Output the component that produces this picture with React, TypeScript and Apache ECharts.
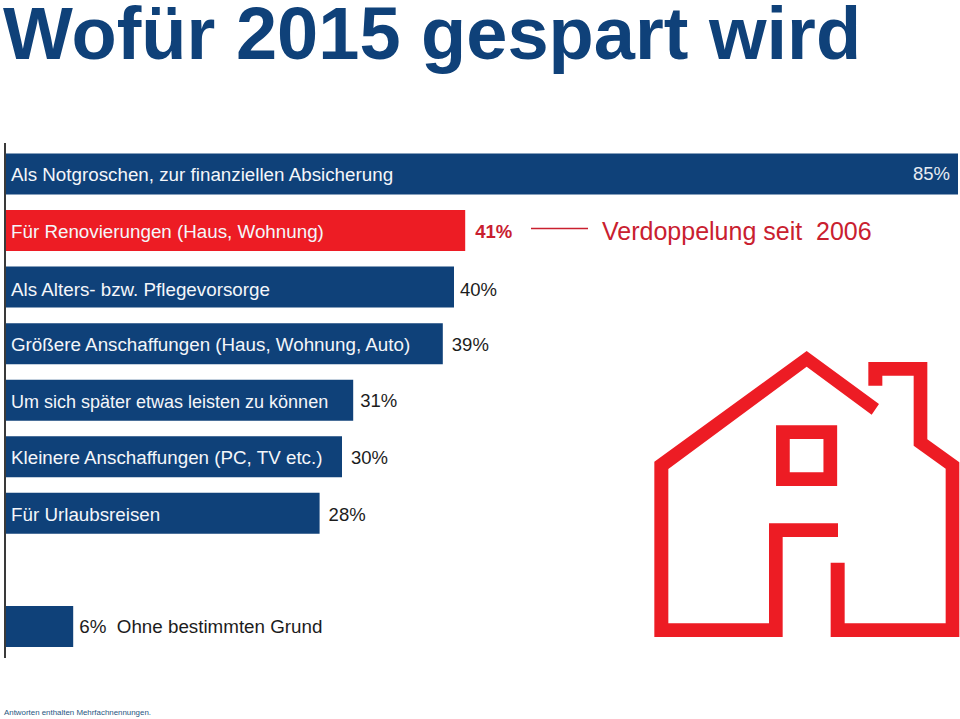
import React, { useEffect, useRef } from "react";
import * as echarts from "echarts";

const categories = [
  "Als Notgroschen, zur finanziellen Absicherung",
  "Für Renovierungen (Haus, Wohnung)",
  "Als Alters- bzw. Pflegevorsorge",
  "Größere Anschaffungen (Haus, Wohnung, Auto)",
  "Um sich später etwas leisten zu können",
  "Kleinere Anschaffungen (PC, TV etc.)",
  "Für Urlaubsreisen",
  "",
  "",
];
const values = [85, 41, 40, 39, 31, 30, 28, null, 6];
const highlightIndex = 1;
const lastNote = "Ohne bestimmten Grund";
const titleText = "Wofür 2015 gespart wird";
const calloutText = "Verdoppelung seit  2006";
const footnote = "Antworten enthalten Mehrfachnennungen.";

const NAVY = "#0f4179";
const RED = "#ed1c24";
const CALLOUT = "#c9202f";
const FONT = "'Liberation Sans', Arial, sans-serif";

const gaps = [0, 10, 6, 9, 7, 9, 9, 0, 6];
const shifts = [0, 1, 2, 1, 0, 1, 1, 0, 0];
const nameSizes = [18.8, 18.8, 18.8, 18.8, 18, 18.8, 18.8, 18.8, 18.8];
const nameShifts = [1, 1, 2, 1, 2, 1, 1, 0, 0];

// House pictogram outlines, measured in page pixels
const z = (pts: number[][]) => pts.map(([x, y]) => [640 + x / 3, 340 + y / 3]);
const houseLeft = z([[717,192],[500,33],[43,365],[43,891],[428,891],[428,591],[594,591],[594,550],[387,550],[387,850],[85,850],[85,387],[500,80],[695,224]]);
const houseRight = z([[685,66],[862,66],[862,298],[958,367],[958,891],[572,891],[572,668],[614,668],[614,850],[917,850],[917,386],[821,317],[821,107],[727,107],[727,137],[685,137]]);

const nameRich: Record<string, any> = {};
nameSizes.forEach((s, i) => {
  nameRich["r" + i] = {
    fontSize: s,
    fontFamily: FONT,
    color: "#f4f6fa",
    padding: [nameShifts[i] * 2, 0, 0, 0],
  };
});

export default function App() {
  const ref = useRef<HTMLDivElement>(null);
  useEffect(() => {
    document.body.style.margin = "0";
    const chart = echarts.init(ref.current!, null, { renderer: "svg" });
    chart.setOption({
      animation: false,
      backgroundColor: "#ffffff",
      title: {
        text: titleText,
        left: 3,
        top: 1,
        padding: 0,
        textStyle: { color: NAVY, fontFamily: FONT, fontWeight: "bold", fontSize: 74, lineHeight: 64 },
      },
      grid: { left: 6, top: 145.7, width: 952, height: 509 },
      xAxis: { type: "value", min: 0, max: 85, show: false },
      yAxis: {
        type: "category",
        inverse: true,
        data: categories,
        axisLine: { show: false },
        axisTick: { show: false },
        axisLabel: {
          inside: true,
          margin: 5,
          fontFamily: FONT,
          fontSize: 18.8,
          formatter: (v: string, i: number) => (v ? `{r${i}|${v}}` : ""),
          rich: nameRich,
        },
        z: 5,
      },
      series: [
        {
          type: "bar",
          barWidth: 41,
          data: values.map((v, i) => ({
            value: v,
            itemStyle: { color: i === highlightIndex ? RED : NAVY },
            label:
              i === 0
                ? { position: "insideRight", distance: 8, color: "#e8ecf3", offset: [0, 0] }
                : i === highlightIndex
                ? { position: "right", distance: gaps[i], color: CALLOUT, fontWeight: "bold", fontSize: 18.5, offset: [0, shifts[i]] }
                : i === 8
                ? { position: "right", distance: gaps[i], fontSize: 18.8, offset: [0, shifts[i]] }
                : { position: "right", distance: gaps[i], offset: [0, shifts[i]] },
          })),
          label: {
            show: true,
            color: "#1c1c1c",
            fontFamily: FONT,
            fontSize: 18.5,
            formatter: (p: any) =>
              p.dataIndex === 8 ? `${p.value}%  ${lastNote}` : `${p.value}%`,
          },
        },
      ],
      graphic: [
        { type: "line", silent: true, shape: { x1: 5, y1: 143, x2: 5, y2: 658 }, style: { stroke: "#3a3a3a", lineWidth: 2 } },
        { type: "line", silent: true, shape: { x1: 531, y1: 228.5, x2: 588, y2: 228.5 }, style: { stroke: CALLOUT, lineWidth: 1.5 } },
        {
          type: "text",
          x: 602,
          y: 231,
          style: { text: calloutText, fill: CALLOUT, font: `25px ${FONT}`, textVerticalAlign: "middle" },
        },
        {
          type: "text",
          x: 4,
          y: 712,
          style: { text: footnote, fill: "#1f5580", font: `7.9px ${FONT}`, textVerticalAlign: "middle" },
        },
        { type: "polygon", shape: { points: houseLeft }, style: { fill: RED } },
        { type: "polygon", shape: { points: houseRight }, style: { fill: RED } },
        { type: "rect", shape: { x: 782.9, y: 432.2, width: 47.4, height: 47 }, style: { fill: "none", stroke: RED, lineWidth: 13.7 } },
      ],
    });
    return () => chart.dispose();
  }, []);
  return <div ref={ref} style={{ width: 960, height: 719 }} />;
}
